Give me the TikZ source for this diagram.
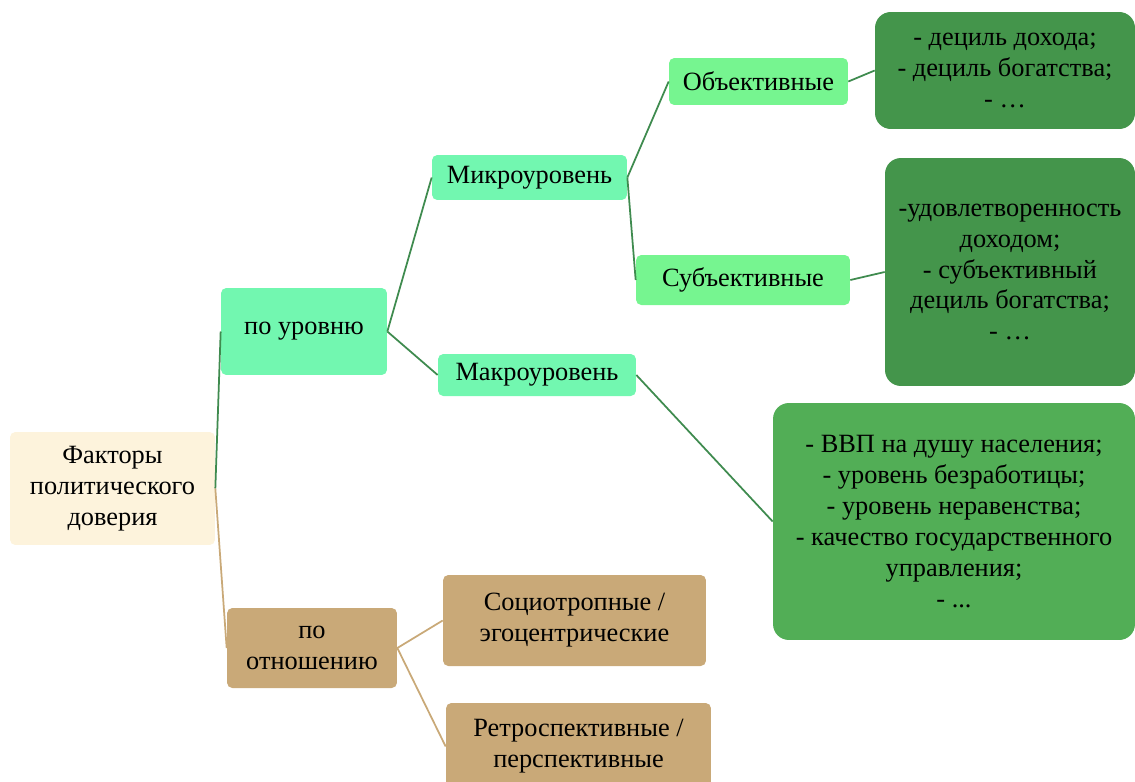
\documentclass[tikz,border=0pt]{standalone}
\usepackage{fontspec}
\setmainfont{Liberation Serif}

\definecolor{cream}{HTML}{FDF3DC}
\definecolor{mint}{HTML}{72F7B0}
\definecolor{lightgreen}{HTML}{76F590}
\definecolor{darkgreen}{HTML}{44954B}
\definecolor{midgreen}{HTML}{52AE56}
\definecolor{tan}{HTML}{C9A978}
\definecolor{greenline}{HTML}{3F8B4F}

\begin{document}
\begin{tikzpicture}[x=0.02cm, y=-0.02cm,
		box/.style={align=center, inner sep=0pt, rounded corners=3pt,
			font=\fontsize{15}{17.6}\selectfont},
		big/.style={box, rounded corners=9pt},
		gline/.style={draw=greenline, line width=1pt},
		tline/.style={draw=tan, line width=1pt}]
	\useasboundingbox (0,0) rectangle (1135,781);
	\clip (0,0) rectangle (1135,781);

	% root and first level
	\node[box, fill=cream, minimum width=4.1cm, minimum height=2.26cm] (root) at (112.5,488.5) {Факторы\\политического\\доверия};
	\node[box, fill=mint, minimum width=3.32cm, minimum height=1.74cm] (lvl) at (304,331.5) {по уровню};
	\node[box, fill=tan, minimum width=3.4cm, minimum height=1.6cm] (rel) at (312,648) {по\\отношению};

	% by level
	\node[box, fill=mint, minimum width=3.9cm, minimum height=0.9cm] (micro) at (529.5,177.5) {Микроуровень};
	\node[box, fill=mint, minimum width=3.96cm, minimum height=0.84cm] (macro) at (537,375) {Макроуровень};
	\node[box, fill=lightgreen, minimum width=3.58cm, minimum height=0.94cm] (obj) at (758.5,81.5) {Объективные};
	\node[box, fill=lightgreen, minimum width=4.28cm, minimum height=1cm] (subj) at (743,280) {Субъективные};

	\node[big, fill=darkgreen, minimum width=5.2cm, minimum height=2.34cm] (objlist) at (1005,70.5)
		{- дециль дохода;\\- дециль богатства;\\- …};
	\node[big, fill=darkgreen, minimum width=5cm, minimum height=4.56cm] (subjlist) at (1010,272)
		{-удовлетворенность\\доходом;\\- субъективный\\дециль богатства;\\- …};
	\node[big, fill=midgreen, minimum width=7.24cm, minimum height=4.74cm] (macrolist) at (954,521.5)
		{- ВВП на душу населения;\\- уровень безработицы;\\- уровень неравенства;\\- качество государственного\\управления;\\- ...};

	% by attitude
	\node[box, fill=tan, minimum width=5.26cm, minimum height=1.82cm] (socio) at (574.5,620.5) {Социотропные /\\эгоцентрические};
	\node[box, fill=tan, minimum width=5.3cm, minimum height=1.74cm] (retro) at (578.5,746.5) {Ретроспективные /\\перспективные};

	% connectors
	\draw[gline] (root.east) -- (lvl.west);
	\draw[tline] (root.east) -- (rel.west);
	\draw[gline] (lvl.east) -- (micro.west);
	\draw[gline] (lvl.east) -- (macro.west);
	\draw[gline] (micro.east) -- (obj.west);
	\draw[gline] (micro.east) -- (subj.west);
	\draw[gline] (obj.east) -- (objlist.west);
	\draw[gline] (subj.east) -- (subjlist.west);
	\draw[gline] (macro.east) -- (macrolist.west);
	\draw[tline] (rel.east) -- (socio.west);
	\draw[tline] (rel.east) -- (retro.west);
\end{tikzpicture}
\end{document}
